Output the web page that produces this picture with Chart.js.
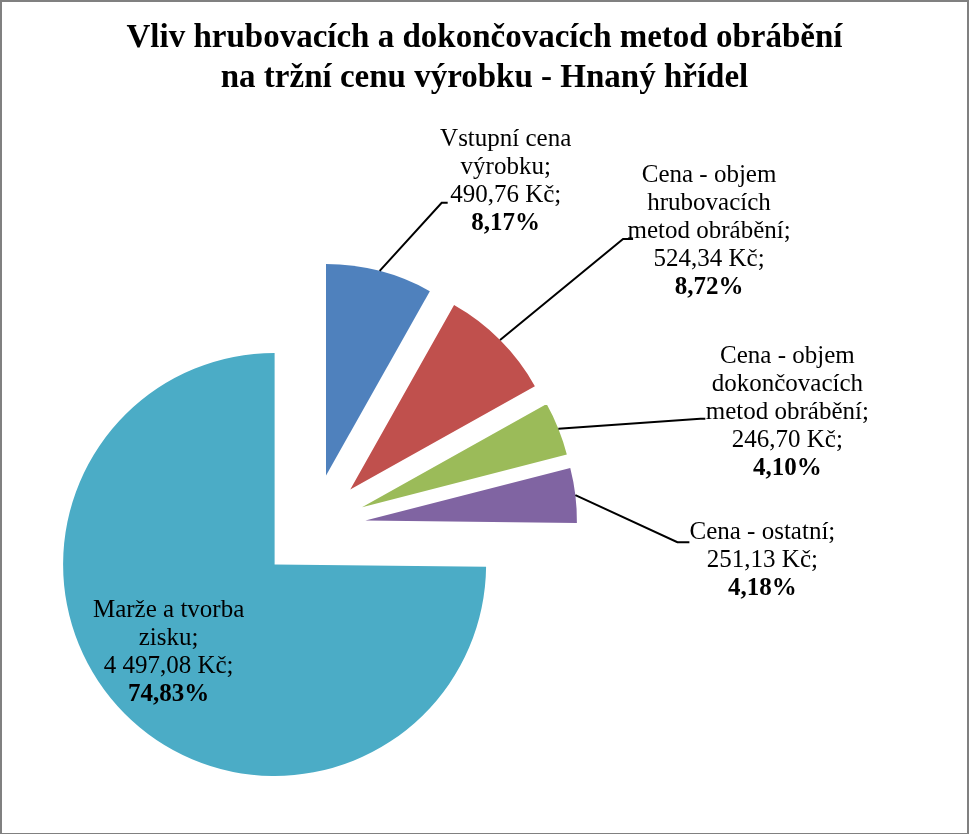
<!DOCTYPE html>
<html>
<head>
<meta charset="utf-8">
<script src="https://cdn.jsdelivr.net/npm/chart.js@4.4.1/dist/chart.umd.min.js"></script>
<style>
html,body{margin:0;padding:0;background:#fff;}
#wrap{width:969px;height:834px;position:relative;}
canvas{display:block;}
</style>
</head>
<body>
<div id="wrap"><canvas id="c" width="969" height="834"></canvas></div>
<script>
// ---- data ----
const titleLines = ['Vliv hrubovacích a dokončovacích metod obrábění', 'na tržní cenu výrobku - Hnaný hřídel'];
const categories = [
  ['Vstupní cena', 'výrobku'],
  ['Cena - objem', 'hrubovacích', 'metod obrábění'],
  ['Cena - objem', 'dokončovacích', 'metod obrábění'],
  ['Cena - ostatní'],
  ['Marže a tvorba', 'zisku']
];
const values = [490.76, 524.34, 246.70, 251.13, 4497.08];
const currency = 'Kč';
const colors = ['#4F81BD', '#C0504D', '#9BBB59', '#8064A2', '#4BACC6'];

// ---- styling / layout ----
const FONT = "'Liberation Serif', 'Times New Roman', serif";
const EXPLODE = 53.3;
const RADIUS = 211.5;
const LINE_H = 28;
const labelLayout = [
  {leader: [62, -68], tick: 6, cx: 64, top: -57},
  {leader: [123, -101], tick: 10, cx: 86, top: -57},
  {leader: [142, -10], tick: 5, cx: 87, top: -56},
  {leader: [102, 47], tick: 12, cx: 85, top: -3},
  {inside: [-106, 53]}
];

const total = values.reduce((a, b) => a + b, 0);
function fmtNum(v) {
  const parts = v.toFixed(2).split('.');
  return parts[0].replace(/\B(?=(\d{3})+(?!\d))/g, ' ') + ',' + parts[1];
}
function fmtPct(v) {
  return (v / total * 100).toFixed(2).replace('.', ',') + '%';
}
function labelLines(i) {
  const name = categories[i].slice();
  name[name.length - 1] = name[name.length - 1] + ';';
  return name.map(t => ({t, bold: false}))
    .concat([{t: fmtNum(values[i]) + ' ' + currency + ';', bold: false}, {t: fmtPct(values[i]), bold: true}]);
}

const explodePlugin = {
  id: 'explode',
  afterDatasetUpdate(chart, args) {
    args.meta.data.forEach(arc => {
      const mid = (arc.startAngle + arc.endAngle) / 2;
      arc.x += Math.cos(mid) * EXPLODE;
      arc.y += Math.sin(mid) * EXPLODE;
    });
  }
};

const labelPlugin = {
  id: 'pieLabels',
  afterDatasetsDraw(chart) {
    const ctx = chart.ctx;
    const meta = chart.getDatasetMeta(0);
    ctx.save();
    meta.data.forEach((arc, i) => {
      const lay = labelLayout[i];
      const mid = (arc.startAngle + arc.endAngle) / 2;
      const r = arc.outerRadius;
      const lines = labelLines(i);
      let cx, y0;
      if (lay.inside) {
        cx = arc.x + lay.inside[0];
        y0 = arc.y + lay.inside[1];
      } else {
        const ox = arc.x + Math.cos(mid) * r;
        const oy = arc.y + Math.sin(mid) * r;
        const ex = ox + lay.leader[0];
        const ey = oy + lay.leader[1];
        ctx.strokeStyle = '#000';
        ctx.lineWidth = 2;
        ctx.beginPath();
        ctx.moveTo(ox, oy);
        ctx.lineTo(ex, ey);
        ctx.lineTo(ex + lay.tick, ey);
        ctx.stroke();
        cx = ex + lay.cx;
        y0 = ey + lay.top;
      }
      ctx.fillStyle = '#000';
      ctx.textAlign = 'center';
      ctx.textBaseline = 'alphabetic';
      lines.forEach((ln, k) => {
        ctx.font = (ln.bold ? 'bold ' : '') + '25px ' + FONT;
        ctx.fillText(ln.t, cx, y0 + k * LINE_H);
      });
    });
    ctx.restore();
  }
};

const titleFramePlugin = {
  id: 'titleFrame',
  afterDraw(chart) {
    const ctx = chart.ctx;
    const w = chart.width, h = chart.height;
    ctx.save();
    ctx.fillStyle = '#000';
    ctx.font = 'bold 33px ' + FONT;
    ctx.textAlign = 'center';
    ctx.textBaseline = 'alphabetic';
    titleLines.forEach((t, i) => ctx.fillText(t, w / 2, 47 + i * 40));
    ctx.fillStyle = '#808080';
    ctx.fillRect(0, 0, w, 2);
    ctx.fillRect(0, 0, 2, h);
    ctx.fillRect(w - 2, 0, 2, h);
    ctx.fillRect(0, h - 1, w, 1);
    ctx.restore();
  }
};

new Chart(document.getElementById('c'), {
  type: 'pie',
  data: {
    labels: categories.map(c => c.join(' ')),
    datasets: [{
      data: values,
      backgroundColor: colors,
      borderWidth: 0,
      radius: RADIUS,
      clip: false
    }]
  },
  options: {
    responsive: false,
    animation: false,
    events: [],
    layout: {padding: {left: 93, right: 437, top: 307, bottom: 87}},
    plugins: {
      legend: {display: false},
      tooltip: {enabled: false},
      title: {display: false}
    }
  },
  plugins: [explodePlugin, labelPlugin, titleFramePlugin]
});
</script>
</body>
</html>
